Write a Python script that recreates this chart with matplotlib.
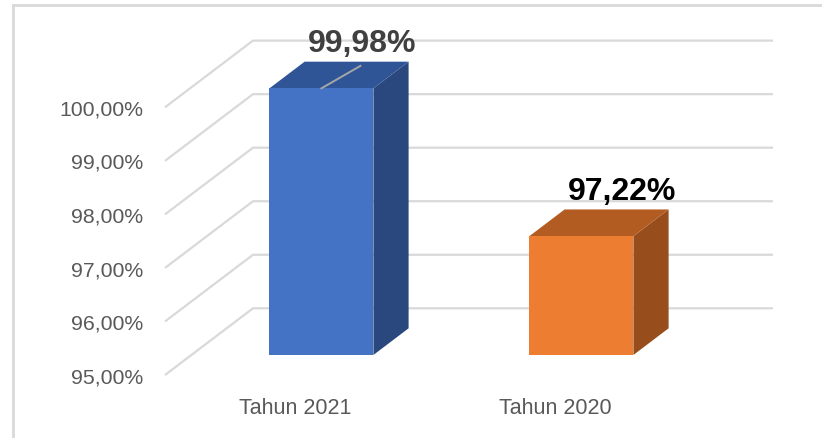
import matplotlib
matplotlib.use("Agg")
import matplotlib.pyplot as plt
from matplotlib.lines import Line2D

categories = ["Tahun 2021", "Tahun 2020"]
values = [99.98, 97.22]
value_labels = ["99,98%", "97,22%"]
ticks = [95, 96, 97, 98, 99, 100]
tick_labels = ["95,00%", "96,00%", "97,00%", "98,00%", "99,00%", "100,00%"]

front_colors = ["#4472C4", "#ED7D31"]
top_colors = ["#2F5597", "#B35C22"]
side_colors = ["#2A487E", "#984D1C"]
label_colors = ["#404040", "#000000"]

plt.rcParams['font.family'] = ['Liberation Sans', 'DejaVu Sans']

W, H = 822, 439
fig = plt.figure(figsize=(W / 100, H / 100), dpi=100)
ax = fig.add_axes([0, 0, 1, 1])
ax.axis('off')

# pixel layout of the oblique 3d box
sx, sy = 260.0, 53.54          # px per category, px per percent
cx0, ybase = 295.0, 376.0       # front plane: category 0 x, 95% y (from top)
DX, DY = 88.0 / sx, 66.7 / sy   # full depth shift in data units
vmin = ticks[0]
ax.set_xlim(-cx0 / sx, (W - cx0) / sx)
ax.set_ylim(vmin - (H - ybase) / sy, vmin + ybase / sy)


def proj(x, v, d):
    return x + d * DX, v + d * DY


xl, xr = -0.5, len(categories) - 0.5
grid_c = "#D9D9D9"
for t, lab in zip(ticks, tick_labels):
    p0 = proj(xl, t, 0)
    p1 = proj(xl, t, 1)
    p2 = proj(xr, t, 1)
    ax.plot([p0[0], p1[0], p2[0]], [p0[1], p1[1], p2[1]], color=grid_c, lw=1.6,
            zorder=1, solid_capstyle='butt')
    ax.text(xl - 0.085, t - 0.03, lab, ha='right', va='center', fontsize=15.3,
            color="#595959")

hw, d0, d1 = 0.2, 0.3, 0.7
for i, v in enumerate(values):
    # right side face
    pts = [proj(i + hw, vmin, d0), proj(i + hw, vmin, d1), proj(i + hw, v, d1), proj(i + hw, v, d0)]
    ax.fill([p[0] for p in pts], [p[1] for p in pts], color=side_colors[i], lw=0, zorder=3)
    # top face
    pts = [proj(i - hw, v, d0), proj(i + hw, v, d0), proj(i + hw, v, d1), proj(i - hw, v, d1)]
    ax.fill([p[0] for p in pts], [p[1] for p in pts], color=top_colors[i], lw=0, zorder=3)
    # front face
    pts = [proj(i - hw, vmin, d0), proj(i + hw, vmin, d0), proj(i + hw, v, d0), proj(i - hw, v, d0)]
    ax.fill([p[0] for p in pts], [p[1] for p in pts], color=front_colors[i], lw=0, zorder=4)

    bx, by = proj(i, v, d1)
    ax.annotate(value_labels[i], xy=(bx, by), xytext=(4, 7.5), textcoords='offset points',
                ha='center', va='baseline', fontsize=23, fontweight='bold',
                color=label_colors[i], zorder=6)
    ax.text(i, vmin - 0.6, categories[i], ha='center', va='center', fontsize=15.5,
            color="#595959")

# leader line of the first label
fx, fy = proj(0, values[0], d0)
ax.plot([fx, fx + 0.15], [fy, fy + 0.42], color="#A6A6A6", lw=1.4, zorder=5)

# chart frame
fig.add_artist(Line2D([12.7 / W, 12.7 / W], [0, 1 - 6 / H], color=grid_c, lw=2))
fig.add_artist(Line2D([12.7 / W, 1], [1 - 6 / H, 1 - 6 / H], color=grid_c, lw=2))

fig.savefig("out.png", dpi=100)
